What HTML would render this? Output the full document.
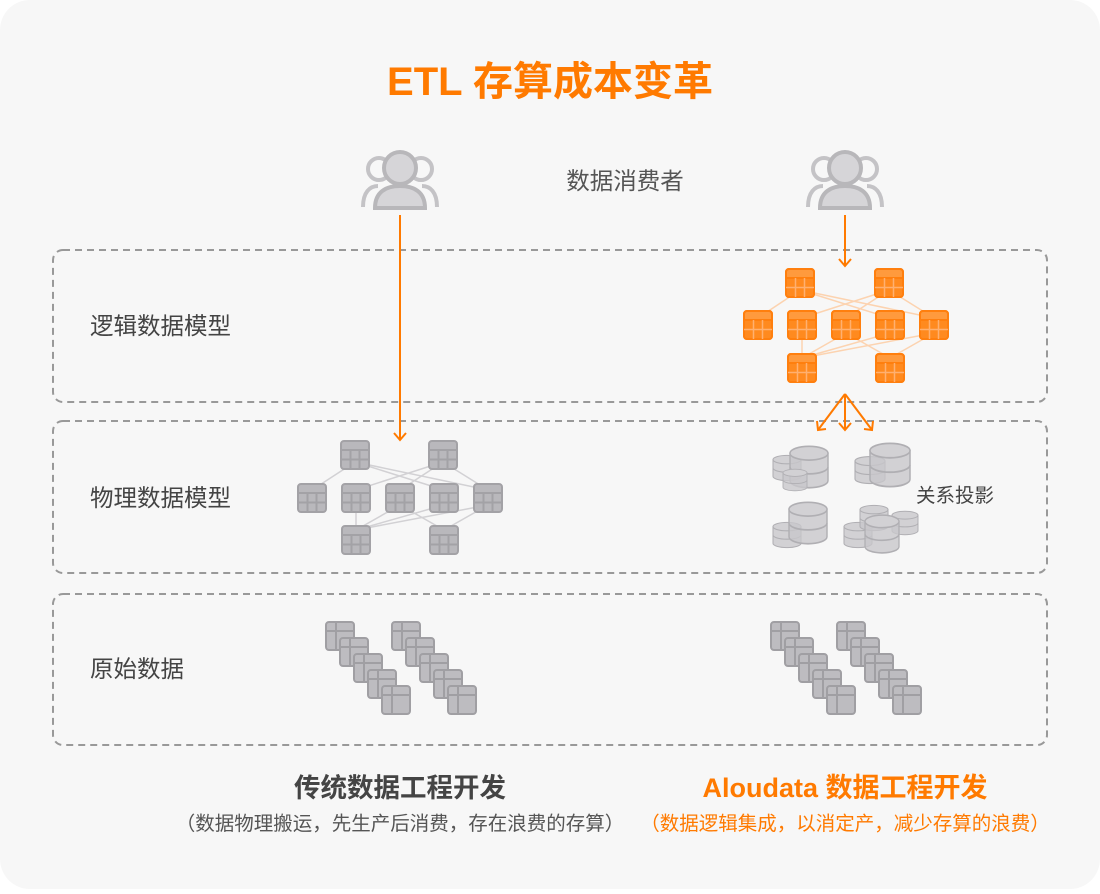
<!DOCTYPE html>
<html><head><meta charset="utf-8"><style>
html,body{margin:0;padding:0;background:#fff;}
body{width:1100px;height:889px;overflow:hidden;font-family:"Liberation Sans","Noto Sans CJK SC",sans-serif;}
</style></head><body>
<svg width="1100" height="889" viewBox="0 0 1100 889" xmlns="http://www.w3.org/2000/svg" font-family="Liberation Sans, Noto Sans CJK SC, sans-serif">
<defs>
<g id="tg">
<rect x="-14" y="-14" width="28" height="28" rx="3" fill="#b9b8bc" stroke="#a3a2a6" stroke-width="2"/>
<line x1="-14" y1="-5" x2="14" y2="-5" stroke="#a3a2a6" stroke-width="2"/>
<line x1="-14" y1="4.5" x2="14" y2="4.5" stroke="#a3a2a6" stroke-width="2"/>
<line x1="-4.5" y1="-5" x2="-4.5" y2="14" stroke="#a3a2a6" stroke-width="2"/>
<line x1="4.5" y1="-5" x2="4.5" y2="14" stroke="#a3a2a6" stroke-width="2"/>
</g>
<g id="to">
<rect x="-14" y="-14" width="28" height="28" rx="3" fill="#ff9a3d" stroke="#ff7f0e" stroke-width="2"/>
<rect x="-14" y="-5" width="28" height="19" fill="#ff8a1f"/>
<rect x="-14" y="-14" width="28" height="28" rx="3" fill="none" stroke="#ff7f0e" stroke-width="2"/>
<line x1="-14" y1="-5" x2="14" y2="-5" stroke="#ff7f0e" stroke-width="2"/>
<line x1="-14" y1="4.5" x2="14" y2="4.5" stroke="#ffb070" stroke-width="1.5"/>
<line x1="-4.5" y1="-5" x2="-4.5" y2="14" stroke="#ffb070" stroke-width="1.5"/>
<line x1="4.5" y1="-5" x2="4.5" y2="14" stroke="#ffb070" stroke-width="1.5"/>
</g>
<g id="raw">
<rect x="0" y="0" width="28" height="28" rx="3" fill="#bdbcc0" stroke="#a09fa3" stroke-width="2"/>
<line x1="0" y1="9" x2="28" y2="9" stroke="#a09fa3" stroke-width="2"/>
<line x1="10" y1="0" x2="10" y2="28" stroke="#a09fa3" stroke-width="2"/>
</g>
<g id="stack">
<use href="#raw" x="0" y="0"/><use href="#raw" x="14" y="16"/><use href="#raw" x="28" y="32"/><use href="#raw" x="42" y="48"/><use href="#raw" x="56" y="64"/>
</g>
<g id="cyl">
<path d="M-20,-12 L-20,12 A20,6 0 0 0 20,12 L20,-12 Z" fill="#c8c7ca" fill-opacity="0.8" stroke="#b0afb3" stroke-width="1.5"/>
<path d="M-20,0 A20,6 0 0 0 20,0" fill="none" stroke="#b0afb3" stroke-width="1.5"/>
<ellipse cx="0" cy="-12" rx="20" ry="6" fill="#d2d1d4" stroke="#b0afb3" stroke-width="1.5"/>
</g>
<g id="person">
<circle cx="-21" cy="-11" r="11" fill="none" stroke="#c4c3c6" stroke-width="4"/>
<circle cx="21" cy="-11" r="11" fill="none" stroke="#c4c3c6" stroke-width="4"/>
<path d="M-37,27 C-37,12 -30,6 -22,6" fill="none" stroke="#c4c3c6" stroke-width="4"/>
<path d="M37,27 C37,12 30,6 22,6" fill="none" stroke="#c4c3c6" stroke-width="4"/>
<circle cx="0" cy="-12" r="16" fill="#d6d5d8" stroke="#b8b7ba" stroke-width="4"/>
<path d="M-25,28 C-25,12 -14,6 0,6 C14,6 25,12 25,28 Z" fill="#d6d5d8" stroke="#b8b7ba" stroke-width="4"/>
</g>
</defs>
<rect x="0" y="0" width="1100" height="889" rx="30" fill="#f7f7f7"/>
<text x="550" y="95" text-anchor="middle" font-size="40" font-weight="bold" fill="#ff7a00">ETL 存算成本变革</text>
<text x="625" y="189" text-anchor="middle" font-size="23.5" fill="#555">数据消费者</text>
<use href="#person" x="400" y="180"/>
<use href="#person" x="845" y="180"/>
<g fill="none" stroke="#999" stroke-width="2" stroke-dasharray="7,5">
<rect x="53" y="250" width="994" height="152" rx="10"/>
<rect x="53" y="421" width="994" height="152" rx="10"/>
<rect x="53" y="594" width="994" height="151" rx="10"/>
</g>
<g font-size="23.5" fill="#444">
<text x="90" y="334">逻辑数据模型</text>
<text x="90" y="506">物理数据模型</text>
<text x="90" y="677">原始数据</text>
</g>
<g stroke="#d2d1d4" stroke-width="1.5">
<line x1="355" y1="462" x2="312" y2="490"/><line x1="355" y1="462" x2="444" y2="490"/><line x1="355" y1="462" x2="488" y2="490"/>
<line x1="443" y1="462" x2="356" y2="490"/><line x1="443" y1="462" x2="400" y2="490"/><line x1="443" y1="462" x2="488" y2="490"/>
<line x1="356" y1="512" x2="356" y2="530"/><line x1="400" y1="505" x2="356" y2="530"/><line x1="444" y1="505" x2="356" y2="530"/>
<line x1="488" y1="505" x2="356" y2="530"/><line x1="400" y1="505" x2="444" y2="530"/><line x1="488" y1="505" x2="444" y2="530"/>
</g>
<use href="#tg" x="355" y="455"/><use href="#tg" x="443" y="455"/>
<use href="#tg" x="312" y="498"/><use href="#tg" x="356" y="498"/><use href="#tg" x="400" y="498"/><use href="#tg" x="444" y="498"/><use href="#tg" x="488" y="498"/>
<use href="#tg" x="356" y="540"/><use href="#tg" x="444" y="540"/>
<g stroke="#fcd3b0" stroke-width="1.5">
<line x1="800" y1="290" x2="758" y2="318"/><line x1="800" y1="290" x2="890" y2="318"/><line x1="800" y1="290" x2="934" y2="318"/>
<line x1="889" y1="290" x2="802" y2="318"/><line x1="889" y1="290" x2="846" y2="318"/><line x1="889" y1="290" x2="934" y2="318"/>
<line x1="802" y1="340" x2="802" y2="358"/><line x1="846" y1="333" x2="802" y2="358"/><line x1="890" y1="333" x2="802" y2="358"/>
<line x1="934" y1="333" x2="802" y2="358"/><line x1="846" y1="333" x2="890" y2="358"/><line x1="934" y1="333" x2="890" y2="358"/>
</g>
<use href="#to" x="800" y="283"/><use href="#to" x="889" y="283"/>
<use href="#to" x="758" y="325"/><use href="#to" x="802" y="325"/><use href="#to" x="846" y="325"/><use href="#to" x="890" y="325"/><use href="#to" x="934" y="325"/>
<use href="#to" x="802" y="368"/><use href="#to" x="890" y="368"/>
<g stroke="#ff7a00" stroke-width="2" fill="none">
<line x1="400" y1="215" x2="400" y2="440"/><polyline points="394,433 400,440 406,433"/>
<line x1="845" y1="215" x2="845" y2="266"/><polyline points="839,259 845,266 851,259"/>
<line x1="845" y1="394" x2="818" y2="430"/><polyline points="817,421 818,430 826,429"/>
<line x1="845" y1="394" x2="845" y2="430"/><polyline points="839,423 845,430 851,423"/>
<line x1="845" y1="394" x2="872" y2="430"/><polyline points="864,429 872,430 873,421"/>
</g>
<g transform="translate(787,468) scale(0.7)"><use href="#cyl"/></g>
<g transform="translate(809,467) scale(0.95,1.15)"><use href="#cyl"/></g>
<g transform="translate(795,480) scale(0.6)"><use href="#cyl"/></g>
<g transform="translate(870,470) scale(0.75)"><use href="#cyl"/></g>
<g transform="translate(890,465) scale(1,1.2)"><use href="#cyl"/></g>
<g transform="translate(787,535) scale(0.7)"><use href="#cyl"/></g>
<g transform="translate(808,523) scale(0.95,1.15)"><use href="#cyl"/></g>
<g transform="translate(858,535) scale(0.7)"><use href="#cyl"/></g>
<g transform="translate(874,518) scale(0.7)"><use href="#cyl"/></g>
<g transform="translate(905,523) scale(0.65)"><use href="#cyl"/></g>
<g transform="translate(882,534) scale(0.85,1.05)"><use href="#cyl"/></g>
<text x="916" y="502" font-size="19.5" fill="#444">关系投影</text>
<use href="#stack" x="326" y="622"/><use href="#stack" x="392" y="622"/>
<use href="#stack" x="771" y="622"/><use href="#stack" x="837" y="622"/>
<text x="400" y="797" text-anchor="middle" font-size="26.5" font-weight="bold" fill="#444">传统数据工程开发</text>
<text x="400" y="830" text-anchor="middle" font-size="19.5" fill="#555">（数据物理搬运，先生产后消费，存在浪费的存算）</text>
<text x="845" y="797" text-anchor="middle" font-size="27" font-weight="bold" fill="#ff7a00">Aloudata 数据工程开发</text>
<text x="845" y="830" text-anchor="middle" font-size="19.5" fill="#ff7a00">（数据逻辑集成，以消定产，减少存算的浪费）</text>
</svg>
</body></html>
